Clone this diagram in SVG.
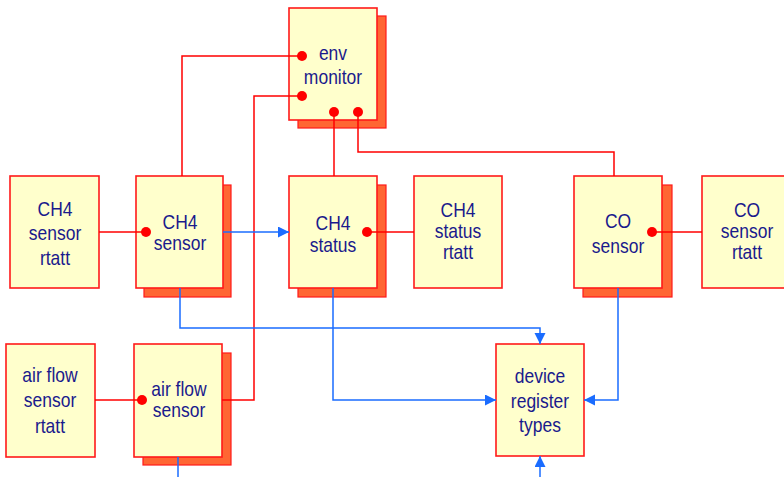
<svg xmlns="http://www.w3.org/2000/svg" width="784" height="477" viewBox="0 0 784 477">
<style>
.bx{fill:#ffffcc;stroke:#ff1a1a;stroke-width:1.6}
.sh{fill:#ff6633;stroke:#ff1a1a;stroke-width:1.2}
.t{font-family:"Liberation Sans",Arial,sans-serif;font-size:17.5px;fill:#1a1a8c;text-anchor:middle}
.r{fill:none;stroke:#ff0000;stroke-width:1.5}
.b{fill:none;stroke:#1a6cff;stroke-width:1.5}
.ba{fill:none;stroke:#1a6cff;stroke-width:1.5;marker-end:url(#ah)}
.dot{fill:#ff0000}
</style>
<defs>
<marker id="ah" markerUnits="userSpaceOnUse" markerWidth="12" markerHeight="12" refX="11" refY="5.5" orient="auto">
<path d="M0,0 L11,5.5 L0,11 z" fill="#1a6cff"/>
</marker>
</defs>
<rect width="784" height="477" fill="#ffffff"/>

<g id="env-monitor">
<rect class="sh" x="298" y="16" width="88" height="112"/>
<rect class="bx" x="289" y="8" width="88" height="112"/>
<text class="t" transform="translate(333,60) scale(1,1.12)">env</text>
<text class="t" transform="translate(333,84) scale(1,1.12)">monitor</text>
</g>

<g id="ch4-sensor-rtatt">
<rect class="bx" x="10" y="176" width="89" height="112"/>
<text class="t" transform="translate(55,216) scale(1,1.12)">CH4</text>
<text class="t" transform="translate(55,240) scale(1,1.12)">sensor</text>
<text class="t" transform="translate(55,265) scale(1,1.12)">rtatt</text>
</g>

<g id="ch4-sensor">
<rect class="sh" x="144" y="185" width="87" height="112"/>
<rect class="bx" x="136" y="176" width="87" height="112"/>
<text class="t" transform="translate(180,229) scale(1,1.12)">CH4</text>
<text class="t" transform="translate(180,250) scale(1,1.12)">sensor</text>
</g>

<g id="ch4-status">
<rect class="sh" x="298" y="185" width="88" height="112"/>
<rect class="bx" x="289" y="176" width="88" height="112"/>
<text class="t" transform="translate(333,230) scale(1,1.12)">CH4</text>
<text class="t" transform="translate(333,252) scale(1,1.12)">status</text>
</g>

<g id="ch4-status-rtatt">
<rect class="bx" x="414" y="176" width="88" height="112"/>
<text class="t" transform="translate(458,217) scale(1,1.12)">CH4</text>
<text class="t" transform="translate(458,238) scale(1,1.12)">status</text>
<text class="t" transform="translate(458,259) scale(1,1.12)">rtatt</text>
</g>

<g id="co-sensor">
<rect class="sh" x="583" y="185" width="89" height="112"/>
<rect class="bx" x="574" y="176" width="88" height="112"/>
<text class="t" transform="translate(618,228) scale(1,1.12)">CO</text>
<text class="t" transform="translate(618,253) scale(1,1.12)">sensor</text>
</g>

<g id="co-sensor-rtatt">
<rect class="bx" x="702" y="176" width="89" height="112"/>
<text class="t" transform="translate(747,217) scale(1,1.12)">CO</text>
<text class="t" transform="translate(747,238) scale(1,1.12)">sensor</text>
<text class="t" transform="translate(747,259) scale(1,1.12)">rtatt</text>
</g>

<g id="air-flow-sensor-rtatt">
<rect class="bx" x="6" y="344" width="89" height="113"/>
<text class="t" transform="translate(50,382) scale(1,1.12)">air flow</text>
<text class="t" transform="translate(50,407) scale(1,1.12)">sensor</text>
<text class="t" transform="translate(50,433) scale(1,1.12)">rtatt</text>
</g>

<g id="air-flow-sensor">
<rect class="sh" x="143" y="353" width="88" height="112"/>
<rect class="bx" x="134" y="344" width="88" height="113"/>
<text class="t" transform="translate(179,396) scale(1,1.12)">air flow</text>
<text class="t" transform="translate(179,417) scale(1,1.12)">sensor</text>
</g>

<g id="device-register-types">
<rect class="bx" x="496" y="344" width="88" height="112"/>
<text class="t" transform="translate(540,383) scale(1,1.12)">device</text>
<text class="t" transform="translate(540,408) scale(1,1.12)">register</text>
<text class="t" transform="translate(540,432) scale(1,1.12)">types</text>
</g>

<g id="connectors">
<polyline class="r" points="302,56 182,56 182,176"/>
<polyline class="r" points="302,96 254,96 254,400 222,400"/>
<polyline class="r" points="334,112 334,176"/>
<polyline class="r" points="358,112 358,152 614,152 614,176"/>
<polyline class="r" points="99,232 146,232"/>
<polyline class="r" points="367,232 414,232"/>
<polyline class="r" points="652,232 702,232"/>
<polyline class="r" points="95,400 142,400"/>
<polyline class="ba" points="223,232 289,232"/>
<polyline class="ba" points="180,288 180,328 540,328 540,344"/>
<polyline class="ba" points="333,288 333,400 496,400"/>
<polyline class="ba" points="618,288 618,400 584,400"/>
<polyline class="ba" points="540,477 540,456"/>
<polyline class="b" points="178,457 178,477"/>
<circle class="dot" cx="302" cy="56" r="5"/>
<circle class="dot" cx="302" cy="96" r="5"/>
<circle class="dot" cx="334" cy="112" r="5"/>
<circle class="dot" cx="358" cy="112" r="5"/>
<circle class="dot" cx="146" cy="232" r="5"/>
<circle class="dot" cx="367" cy="232" r="5"/>
<circle class="dot" cx="652" cy="232" r="5"/>
<circle class="dot" cx="142" cy="400" r="5"/>
</g>
</svg>
